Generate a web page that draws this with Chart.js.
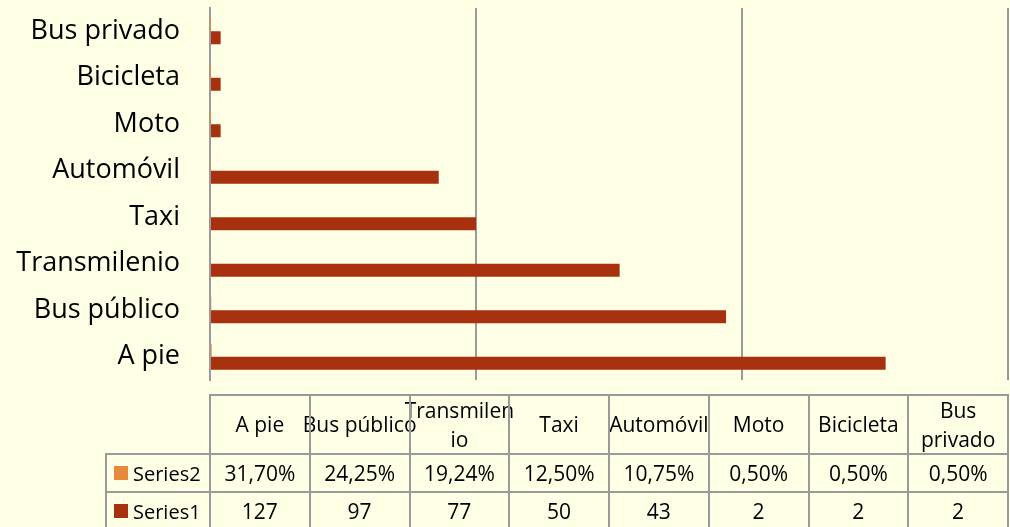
<!DOCTYPE html>
<html><head><meta charset="utf-8">
<script src="https://cdn.jsdelivr.net/npm/chart.js@4/dist/chart.umd.min.js"></script>
<style>
html,body{margin:0;padding:0;background:#FFFFE6;}
#wrap{position:relative;width:1010px;height:527px;overflow:hidden;background:#FFFFE6;}
canvas{position:absolute;left:0;top:0;}
#tbl{position:absolute;left:0;top:0;width:1010px;height:527px;font-family:"Open Sans",sans-serif;font-size:21px;color:#000;}
.cell{position:absolute;box-sizing:border-box;display:flex;align-items:center;justify-content:center;white-space:pre;text-align:center;line-height:29px;}
.leg{justify-content:flex-start;padding-left:8px;font-size:20px;}
.sw{display:inline-block;width:14px;height:14px;margin-right:5px;}
.ln{position:absolute;background:#9a9a9a;}
</style></head>
<body><div id="wrap"><canvas id="c" width="1010" height="527"></canvas><div id="tbl"></div></div>
<script>
const categories = ["A pie","Bus público","Transmilenio","Taxi","Automóvil","Moto","Bicicleta","Bus privado"];
const tableHeaderLabels = ["A pie","Bus público","Transmilen\nio","Taxi","Automóvil","Moto","Bicicleta","Bus\nprivado"];
const series1 = [127,97,77,50,43,2,2,2];
const series2 = [0.3170,0.2425,0.1924,0.1250,0.1075,0.0050,0.0050,0.0050];
const seriesNames = ["Series2","Series1"];
const xMin = 0, xMax = 150, xStep = 50;

const COLOR1 = "#A7310F", COLOR2 = "#E8883A", GRID = "#9a9a9a";

function fmtPct(v){ return (v*100).toFixed(2).replace(".", ",") + "%"; }

const tablePlugin = {
  id: "dataTable",
  afterRender(chart){
    if (chart._tblDone) return; chart._tblDone = true;
    const t = document.getElementById("tbl");
    const L = chart.chartArea.left, R = chart.chartArea.right;
    const n = categories.length, w = (R - L) / n;
    const rows = [395, 454, 492, 530];
    const legL = 106;
    const add = (cls, x, y, ww, hh) => {
      const d = document.createElement("div"); d.className = cls;
      d.style.left = x + "px"; d.style.top = y + "px"; d.style.width = ww + "px"; d.style.height = hh + "px";
      t.appendChild(d); return d;
    };
    for (let i = 0; i < n; i++) {
      const c = add("cell", L + i*w, rows[0], w, rows[1]-rows[0]);
      c.textContent = tableHeaderLabels[i];
    }
    const rowData = [series2.map(fmtPct), series1.map(String)];
    const rowColors = [COLOR2, COLOR1];
    for (let r = 0; r < 2; r++) {
      const y0 = rows[r+1], hh = rows[r+2] - rows[r+1];
      const lg = add("cell leg", legL, y0, L - legL, hh);
      const sw = document.createElement("span"); sw.className = "sw"; sw.style.background = rowColors[r];
      lg.appendChild(sw); lg.appendChild(document.createTextNode(seriesNames[r]));
      for (let i = 0; i < n; i++) {
        const c = add("cell", L + i*w, y0, w, hh);
        c.textContent = rowData[r][i];
      }
    }
    add("ln", L-1, rows[0]-1, R-L+2, 2);
    add("ln", legL-1, rows[1]-1, R-legL+2, 2);
    add("ln", legL-1, rows[2]-1, R-legL+2, 2);
    add("ln", legL-1, rows[3]-1, R-legL+2, 2);
    add("ln", legL-1, rows[1]-1, 2, rows[3]-rows[1]+2);
    for (let i = 0; i <= n; i++) add("ln", L + i*w - 1, rows[0]-1, 2, rows[3]-rows[0]+2);
  }
};

new Chart(document.getElementById("c"), {
  type: "bar",
  data: {
    labels: categories,
    datasets: [
      { label: seriesNames[0], data: series2, backgroundColor: COLOR2 },
      { label: seriesNames[1], data: series1, backgroundColor: COLOR1 }
    ]
  },
  options: {
    indexAxis: "y",
    responsive: false,
    animation: false,
    events: [],
    layout: { padding: { top: 8, right: 2, bottom: 147, left: 0 } },
    datasets: { bar: { barPercentage: 1, categoryPercentage: 0.56 } },
    plugins: { legend: { display: false }, tooltip: { enabled: false } },
    scales: {
      x: {
        min: xMin, max: xMax,
        ticks: { display: false, stepSize: xStep },
        grid: { color: GRID, lineWidth: 2, drawTicks: false },
        border: { display: false },
        afterFit: s => { s.height = 0; s.paddingLeft = 0; s.paddingRight = 0; }
      },
      y: {
        reverse: true,
        grid: { display: false, drawTicks: false },
        border: { display: true, color: GRID, width: 2 },
        ticks: { color: "#000", padding: 30, font: { family: "Open Sans", size: 27 } },
        afterFit: s => { s.width = 210; s.paddingTop = 0; s.paddingBottom = 0; }
      }
    }
  },
  plugins: [tablePlugin]
});
</script>
</body></html>
